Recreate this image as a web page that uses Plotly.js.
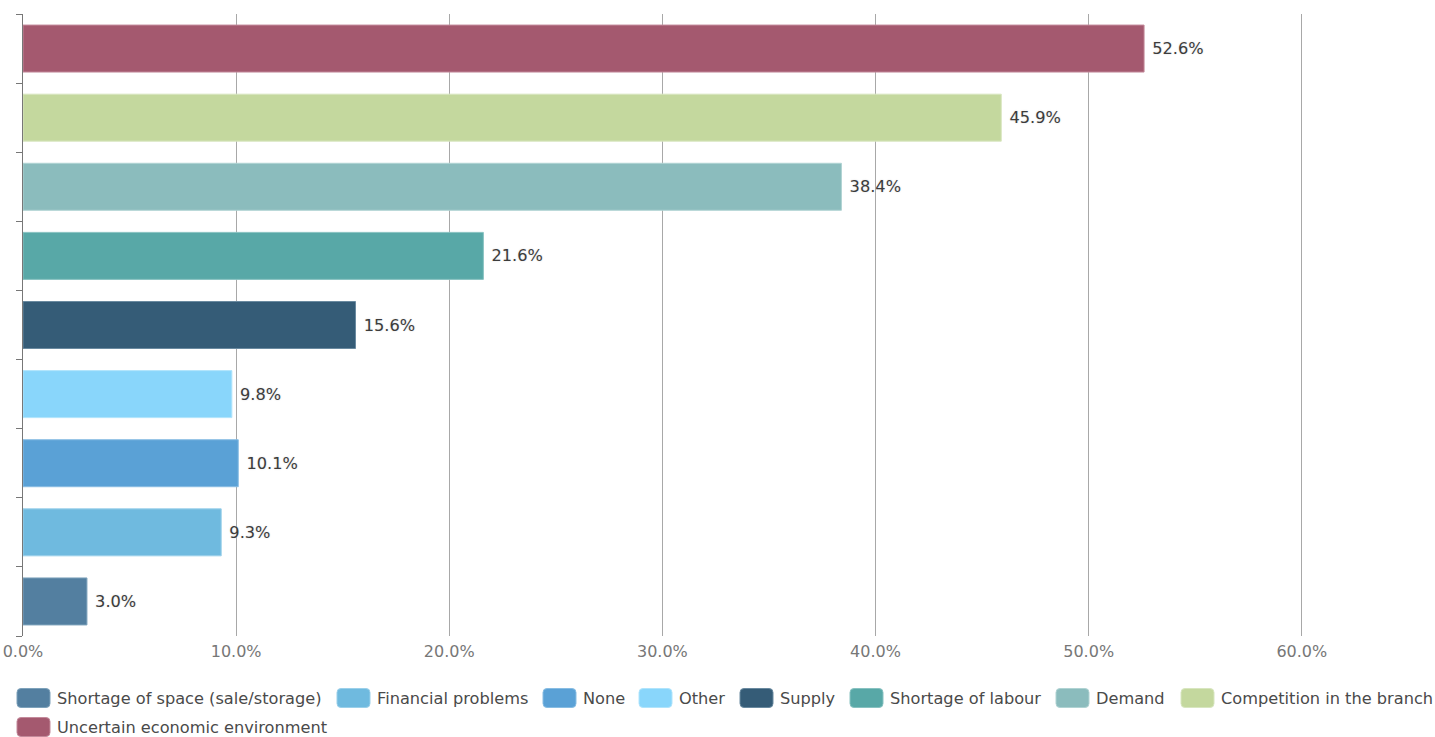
<!DOCTYPE html>
<html><head><meta charset="utf-8">
<script src="https://cdn.plot.ly/plotly-3.0.1.min.js"></script>
<style>html,body{margin:0;padding:0;background:#fff;}#chart{width:1435px;height:737px;}</style>
</head><body><div id="chart"></div>
<script>
const categories = ["Shortage of space (sale/storage)","Financial problems","None","Other","Supply","Shortage of labour","Demand","Competition in the branch","Uncertain economic environment"];
const values = [3.0, 9.3, 10.1, 9.8, 15.6, 21.6, 38.4, 45.9, 52.6];
const colors = ["#537fa0","#6fbadf","#5aa1d6","#89d6fb","#355c77","#58a8a7","#8bbcbd","#c4d89e","#a4596f"];
const lineColors = ["#7ea2bb","#9bd0ea","#88bde3","#b0e4fc","#6a8aa0","#88c2c1","#b0d3d3","#d8e6c0","#c48a9b"];
const tickVals = [0,10,20,30,40,50,60];
const tickText = ["0.0%","10.0%","20.0%","30.0%","40.0%","50.0%","60.0%"];

// layout constants (pixels)
const W = 1435, H = 737, ML = 23, MR = 0, MT = 14, MB = 101;
const PW = W - ML - MR, PH = H - MT - MB;
const FONT = 'DejaVu Sans, Verdana, sans-serif';
const legendSwatchX = [17, 337, 543, 639, 740, 850, 1056, 1181, 17];
const legendRowY = [698, 698, 698, 698, 698, 698, 698, 698, 727];
const SW = 33, SH = 19, SR = 4, TXTGAP = 5;

const px2x = p => (p - ML) / PW;
const px2y = p => (H - MB - p) / PH;

function roundRect(x0, y0, x1, y1, r) {
  const X = px2x, Y = px2y;
  return `M${X(x0+r)},${Y(y0)} L${X(x1-r)},${Y(y0)} Q${X(x1)},${Y(y0)} ${X(x1)},${Y(y0+r)} ` +
         `L${X(x1)},${Y(y1-r)} Q${X(x1)},${Y(y1)} ${X(x1-r)},${Y(y1)} ` +
         `L${X(x0+r)},${Y(y1)} Q${X(x0)},${Y(y1)} ${X(x0)},${Y(y1-r)} ` +
         `L${X(x0)},${Y(y0+r)} Q${X(x0)},${Y(y0)} ${X(x0+r)},${Y(y0)} Z`;
}

const traces = categories.map((c,i)=>({
  type:'bar', orientation:'h', name:c,
  x:[values[i]], y:[c],
  texttemplate:' %{x:.1f}%', textposition:'outside', cliponaxis:false,
  textfont:{family:FONT, size:16.2, color:'#3c3c3c', shadow:'0px 0px 2px #d8d8d8'},
  marker:{color:colors[i], line:{color:lineColors[i], width:1}},
  width:0.68, hoverinfo:'x+name', showlegend:false
}));

const shapes = [], annotations = [];
categories.forEach((c,i)=>{
  const x0 = legendSwatchX[i], yc = legendRowY[i];
  shapes.push({type:'path', xref:'paper', yref:'paper', path:roundRect(x0, yc-SH/2, x0+SW, yc+SH/2, SR),
    fillcolor:colors[i], line:{color:lineColors[i], width:1}, layer:'above'});
  annotations.push({xref:'paper', yref:'paper', x:px2x(x0+SW+TXTGAP), y:px2y(yc), xanchor:'left', yanchor:'middle',
    text:c, showarrow:false, font:{family:FONT, size:16.2, color:'#4a4a4a'}, align:'left'});
});

const layout = {
  width:W, height:H,
  margin:{l:ML, r:MR, t:MT, b:MB, pad:0},
  barmode:'overlay',
  showlegend:false,
  font:{family:FONT, color:'#555'},
  xaxis:{range:[0,66.25], tickvals:tickVals, ticktext:tickText, showgrid:true, gridcolor:'#a8a8a8', gridwidth:1,
    zeroline:false, showline:false, ticks:'', tickfont:{family:FONT, size:16, color:'#777'}, ticklabelstandoff:4,
    automargin:false, fixedrange:true},
  yaxis:{type:'category', categoryarray:categories, categoryorder:'array', showticklabels:false,
    tickson:'boundaries', ticks:'outside', ticklen:6, tickcolor:'#777', showline:true, linecolor:'#777', linewidth:1.5,
    showgrid:false, zeroline:false, range:[-0.5,8.5], automargin:false},
  shapes:shapes, annotations:annotations,
  plot_bgcolor:'#fff', paper_bgcolor:'#fff'
};
Plotly.newPlot('chart', traces, layout, {displayModeBar:false, staticPlot:true});
</script></body></html>
